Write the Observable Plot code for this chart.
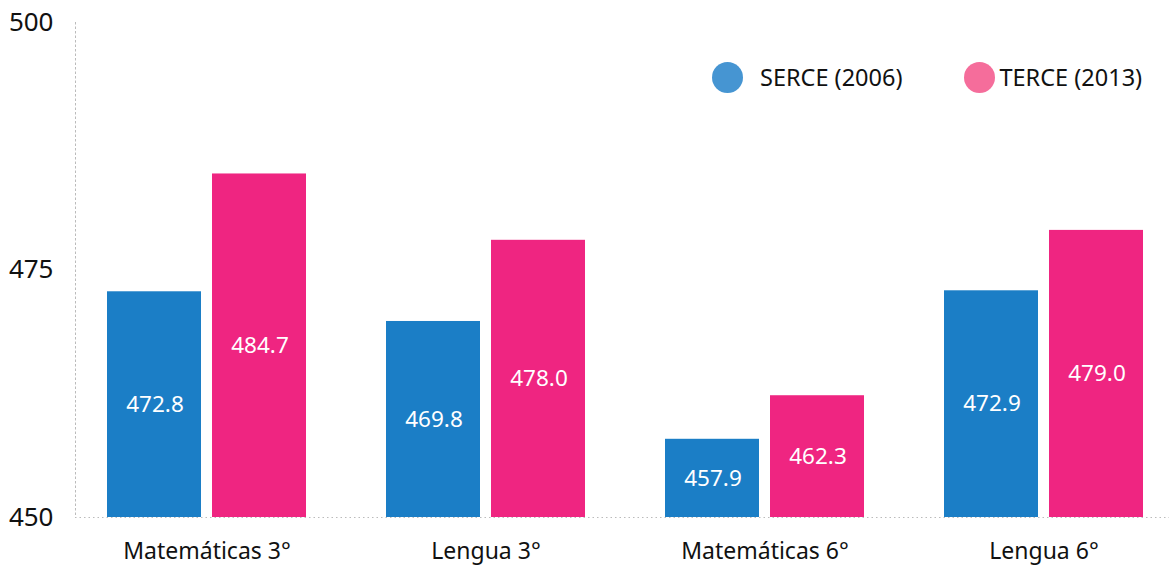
<!DOCTYPE html>
<html>
<head>
<meta charset="utf-8">
<script src="https://cdn.jsdelivr.net/npm/d3@7"></script>
<script src="https://cdn.jsdelivr.net/npm/@observablehq/plot@0.6"></script>
<style>
  html, body { margin: 0; padding: 0; background: #fff; }
  #wrap { position: relative; width: 1169px; height: 571px; font-family: "Noto Sans", sans-serif; }
  #legend { position: absolute; top: 61px; left: 712px; display: flex; align-items: center; font-size: 23.5px; color: #111; }
  .item { display: flex; align-items: center; }
  .sw { width: 31px; height: 31px; border-radius: 50%; display: inline-block; }
</style>
</head>
<body>
<div id="wrap"><div id="legend"></div></div>
<script>
const categories = ["Matemáticas 3°", "Lengua 3°", "Matemáticas 6°", "Lengua 6°"];
const series = ["SERCE (2006)", "TERCE (2013)"];
const serce = [472.8, 469.8, 457.9, 472.9];
const terce = [484.7, 478.0, 462.3, 479.0];
const yTicks = [450, 475, 500];
const barColors = ["#1b7ec6", "#ef2581"];
const legendColors = ["#4695d2", "#f56d9b"];

const data = [];
categories.forEach((c, i) => {
  data.push({category: c, series: series[0], value: serce[i]});
  data.push({category: c, series: series[1], value: terce[i]});
});
const blue = data.filter(d => d.series === series[0]);
const pink = data.filter(d => d.series === series[1]);
const base = yTicks[0];

const chart = Plot.plot({
  width: 1169,
  height: 571,
  marginTop: 22,
  marginBottom: 54,
  marginLeft: 75,
  marginRight: 0,
  style: {fontFamily: "Noto Sans, sans-serif", background: "#fff"},
  x: {domain: categories, type: "band", paddingInner: 0.285, paddingOuter: 0, range: [106, 1145], label: null},
  y: {domain: [450, 500], label: null},
  marks: [
    Plot.frame({anchor: "left", stroke: "#bbb", strokeDasharray: "1.5,3"}),
    Plot.barY(blue, {x: "category", y1: base, y2: "value", fill: barColors[0], insetRight: 105}),
    Plot.barY(pink, {x: "category", y1: base, y2: "value", fill: barColors[1], insetLeft: 105}),
    Plot.ruleY([base], {stroke: "#bbb", strokeDasharray: "1.5,3"}),
    Plot.text(blue, {x: "category", y: d => (base + d.value) / 2, text: d => d.value.toFixed(1), dx: -52, fill: "white", fontSize: 22.5}),
    Plot.text(pink, {x: "category", y: d => (base + d.value) / 2, text: d => d.value.toFixed(1), dx: 53, fill: "white", fontSize: 22.5}),
    Plot.axisY({ticks: yTicks, tickSize: 0, tickPadding: 22, fontSize: 26, fill: "#111", tickFormat: d => String(d)}),
    Plot.axisX({tickSize: 0, tickPadding: 25, fontSize: 23, fill: "#111"})
  ]
});
document.getElementById("wrap").prepend(chart);
chart.style.position = "absolute";
chart.style.left = "0";
chart.style.top = "0";

const legend = document.getElementById("legend");
series.forEach((s, i) => {
  const item = document.createElement("div");
  item.className = "item";
  item.style.marginRight = i === 0 ? "62px" : "0";
  const sw = document.createElement("span");
  sw.className = "sw";
  sw.style.background = legendColors[i];
  sw.style.marginRight = i === 0 ? "17px" : "4px";
  const t = document.createElement("span");
  t.textContent = s;
  item.append(sw, t);
  legend.append(item);
});
</script>
</body>
</html>
